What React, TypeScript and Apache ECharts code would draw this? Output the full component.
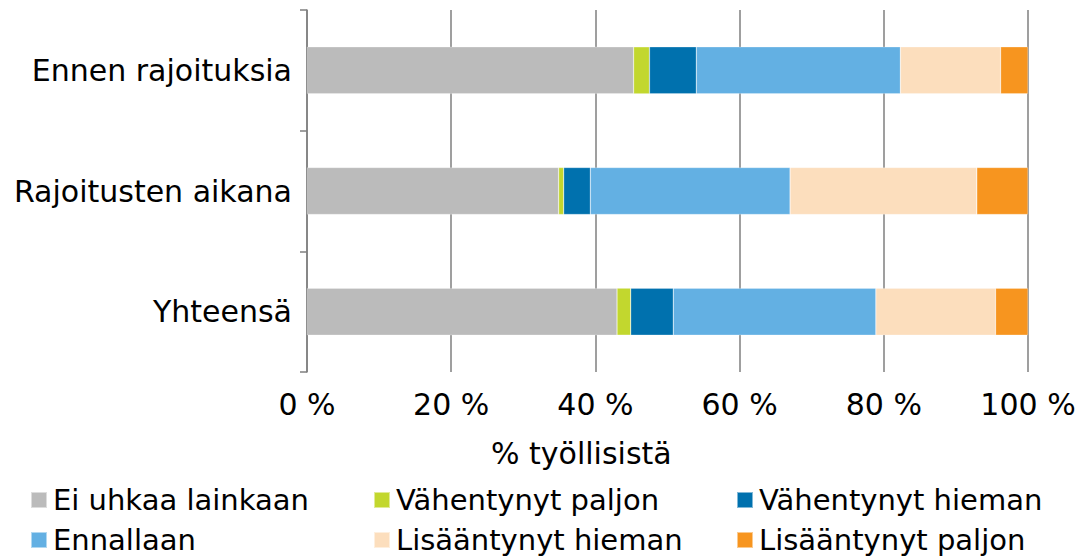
import React, { useEffect, useRef } from "react";
import * as echarts from "echarts";

const categories = ["Ennen rajoituksia", "Rajoitusten aikana", "Yhteensä"];
const seriesNames = [
  "Ei uhkaa lainkaan",
  "Vähentynyt paljon",
  "Vähentynyt hieman",
  "Ennallaan",
  "Lisääntynyt hieman",
  "Lisääntynyt paljon",
];
const eiUhkaa = [45.3, 34.9, 43.0];
const vahPaljon = [2.2, 0.7, 1.9];
const vahHieman = [6.5, 3.7, 5.9];
const ennallaan = [28.3, 27.7, 28.1];
const lisHieman = [13.9, 25.9, 16.6];
const lisPaljon = [3.8, 7.1, 4.5];
const xTicks = [0, 20, 40, 60, 80, 100];
const colors = ["#BBBBBB", "#C2D72E", "#0071AE", "#63B0E3", "#FCDEBD", "#F7951F"];

const FONT = "DejaVu Sans";

export default function App() {
  const ref = useRef<HTMLDivElement>(null);
  useEffect(() => {
    if (!ref.current) return;
    const chart = echarts.init(ref.current, null, { renderer: "svg" });
    const values = [eiUhkaa, vahPaljon, vahHieman, ennallaan, lisHieman, lisPaljon];
    const legendCol = (names: string[], left: number) => ({
      data: names,
      left,
      top: 485,
      height: 90,
      padding: 0,
      orient: "vertical",
      itemWidth: 16,
      itemHeight: 16,
      itemGap: 10,
      icon: "rect",
      selectedMode: false,
      textStyle: { fontFamily: FONT, fontSize: 29, color: "#000", lineHeight: 30, padding: [0, 0, 0, 1] },
    });
    chart.setOption({
      animation: false,
      grid: { left: 307, right: 54, top: 10, bottom: 184, containLabel: false },
      xAxis: {
        type: "value",
        min: 0,
        max: 100,
        interval: 20,
        axisLine: { show: false },
        axisTick: { show: false },
        splitLine: { show: true, lineStyle: { color: "#7f7f7f", width: 1.5 } },
        axisLabel: {
          fontFamily: FONT,
          fontSize: 30,
          color: "#000",
          margin: 17,
          formatter: (v: number) => (xTicks.includes(v) ? `${v} %` : ""),
        },
      },
      yAxis: {
        type: "category",
        data: categories,
        inverse: true,
        axisLine: { show: true, lineStyle: { color: "#7f7f7f", width: 1.5 } },
        axisTick: { show: true, length: 7, lineStyle: { color: "#7f7f7f", width: 1.5 } },
        axisLabel: { fontFamily: FONT, fontSize: 30, color: "#000", margin: 15 },
      },
      legend: [
        legendCol([seriesNames[0], seriesNames[3]], 30),
        legendCol([seriesNames[1], seriesNames[4]], 373),
        legendCol([seriesNames[2], seriesNames[5]], 736),
      ],
      graphic: [
        {
          type: "text",
          left: 491,
          top: 438,
          style: { text: "% työllisistä", fontFamily: FONT, fontSize: 30, fill: "#000" },
        },
      ],
      series: seriesNames.map((name, i) => ({
        name,
        type: "bar",
        stack: "total",
        barWidth: "39%",
        data: values[i],
        itemStyle: { color: colors[i], borderColor: "rgba(255,255,255,0.5)", borderWidth: 0.5 },
      })),
    });
    return () => chart.dispose();
  }, []);
  return <div ref={ref} style={{ width: 1082, height: 556, position: "absolute", left: 0, top: 0 }} />;
}
